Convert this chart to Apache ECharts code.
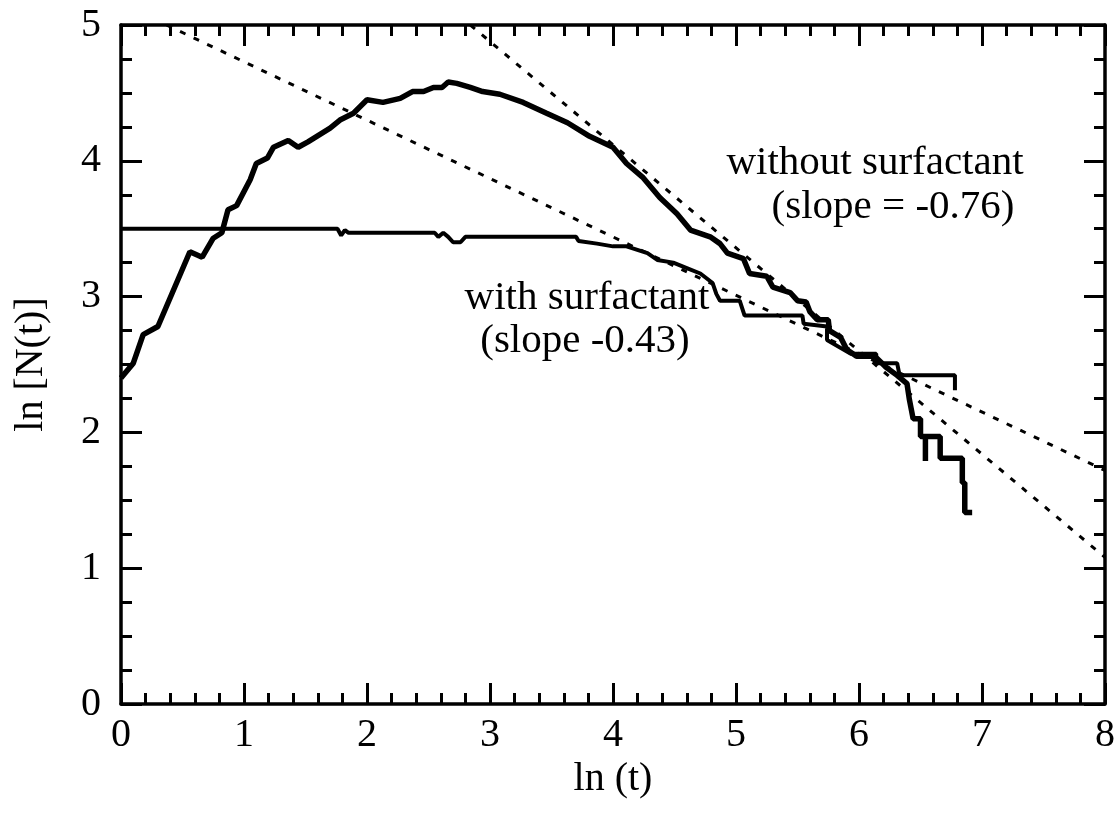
<!DOCTYPE html>
<html>
<head>
<meta charset="utf-8">
<script src="https://cdn.jsdelivr.net/npm/echarts@6/dist/echarts.min.js"></script>
<style>
html,body{margin:0;padding:0;background:#fff;}
#chart{width:1120px;height:815px;}
</style>
</head>
<body>
<div id="chart"></div>
<script>
// ---- data ----
var withoutX = [0,0.10,0.18,0.30,0.56,0.66,0.75,0.82,0.87,0.94,1.05,1.10,1.19,1.24,1.36,1.44,1.52,1.70,1.78,1.89,2.00,2.13,2.27,2.37,2.46,2.54,2.61,2.66,2.73,2.84,2.94,3.08,3.27,3.46,3.63,3.81,4.00,4.11,4.24,4.38,4.52,4.63,4.79,4.87,4.93,5.06,5.11,5.25,5.30,5.44,5.50,5.57,5.60,5.66,5.75,5.76,5.85,5.90,5.98,6.13,6.22,6.31,6.39,6.41,6.44,6.50,6.50,6.54,6.54,6.54,6.66,6.66,6.84,6.84,6.86,6.86,6.92];
var withoutY = [2.40,2.51,2.72,2.78,3.33,3.29,3.43,3.47,3.64,3.67,3.86,3.98,4.02,4.10,4.15,4.10,4.14,4.24,4.30,4.35,4.45,4.43,4.46,4.51,4.51,4.54,4.54,4.58,4.57,4.54,4.51,4.49,4.43,4.35,4.28,4.18,4.10,3.98,3.88,3.73,3.61,3.49,3.44,3.39,3.32,3.28,3.17,3.15,3.07,3.03,2.97,2.96,2.89,2.83,2.83,2.75,2.70,2.61,2.56,2.56,2.48,2.42,2.36,2.24,2.10,2.10,1.97,1.97,1.79,1.97,1.97,1.81,1.81,1.63,1.63,1.41,1.41];

var withX = [0,1.76,1.79,1.82,1.85,2.55,2.58,2.62,2.66,2.70,2.76,2.80,3.70,3.72,3.87,4.00,4.11,4.28,4.36,4.49,4.60,4.71,4.81,4.84,4.87,5.03,5.07,5.54,5.55,5.74,5.74,5.93,6.14,6.14,6.31,6.33,6.78,6.78];
var withY = [3.50,3.50,3.45,3.49,3.47,3.47,3.44,3.47,3.44,3.40,3.40,3.44,3.44,3.41,3.39,3.37,3.37,3.32,3.27,3.25,3.21,3.17,3.10,3.02,2.97,2.97,2.86,2.86,2.80,2.78,2.68,2.58,2.58,2.51,2.51,2.42,2.42,2.31];

var fitShallowX = [0.37, 8];
var fitShallowY = [5.0, 1.72];
var fitSteepX = [2.84, 8];
var fitSteepY = [5.0, 1.08];

var xTicks = [0,1,2,3,4,5,6,7,8];
var yTicks = [0,1,2,3,4,5];
var notes = ['without surfactant', '(slope = -0.76)', 'with surfactant', '(slope -0.43)'];

function pairs(xs, ys){ return xs.map(function(x,i){ return [x, ys[i]]; }); }

var FONT = 'Liberation Serif';
var chart = echarts.init(document.getElementById('chart'), null, {renderer:'canvas'});

function xAx(pos, showLabel){
  return {
    type:'value', position:pos, min:xTicks[0], max:xTicks[xTicks.length-1], interval:1,
    axisLine:{show:true, onZero:false, lineStyle:{color:'#000', width:3.5}},
    axisTick:{show:true, inside:true, length:21, lineStyle:{color:'#000', width:3}},
    minorTick:{show:true, splitNumber:5, length:11, lineStyle:{color:'#000', width:3}},
    splitLine:{show:false}, minorSplitLine:{show:false},
    axisLabel:{show:showLabel, color:'#000', fontFamily:FONT, fontSize:40, margin:11},
    name: showLabel ? 'ln (t)' : '', nameLocation:'middle', nameGap:48,
    nameTextStyle:{color:'#000', fontFamily:FONT, fontSize:40}
  };
}
function yAx(pos, showLabel){
  return {
    type:'value', position:pos, min:yTicks[0], max:yTicks[yTicks.length-1], interval:1,
    axisLine:{show:true, onZero:false, lineStyle:{color:'#000', width:3.5}},
    axisTick:{show:true, inside:true, length:21, lineStyle:{color:'#000', width:3}},
    minorTick:{show:true, splitNumber:4, length:11, lineStyle:{color:'#000', width:3}},
    splitLine:{show:false}, minorSplitLine:{show:false},
    axisLabel:{show:showLabel, color:'#000', fontFamily:FONT, fontSize:40, margin:20},
    name: showLabel ? 'ln [N(t)]' : '', nameLocation:'middle', nameGap:70, nameRotate:90,
    nameTextStyle:{color:'#000', fontFamily:FONT, fontSize:40}
  };
}

var noteFont = '41px "Liberation Serif"';
function note(i, x, y){
  return {type:'text', x:x, y:y, style:{text:notes[i], fill:'#000', font:noteFont, align:'center', verticalAlign:'middle', textAlign:'center', textVerticalAlign:'middle'}};
}

var option = {
  animation:false,
  backgroundColor:'#fff',
  grid:{left:121, right:15, top:25, bottom:111, containLabel:false},
  xAxis:[xAx('bottom', true), xAx('top', false)],
  yAxis:[yAx('left', true), yAx('right', false)],
  series:[
    {name:'without surfactant', type:'line', xAxisIndex:0, yAxisIndex:0, data:pairs(withoutX, withoutY),
     showSymbol:false, symbol:'none', lineStyle:{color:'#000', width:5.5}, z:3},
    {name:'with surfactant', type:'line', xAxisIndex:0, yAxisIndex:0, data:pairs(withX, withY),
     showSymbol:false, symbol:'none', lineStyle:{color:'#000', width:4}, z:3},
    {name:'fit -0.43', type:'line', xAxisIndex:0, yAxisIndex:0, data:pairs(fitShallowX, fitShallowY),
     showSymbol:false, symbol:'none', lineStyle:{color:'#000', width:3, type:[6,9]}, z:2},
    {name:'fit -0.76', type:'line', xAxisIndex:0, yAxisIndex:0, data:pairs(fitSteepX, fitSteepY),
     showSymbol:false, symbol:'none', lineStyle:{color:'#000', width:3, type:[6,9]}, z:2}
  ],
  graphic:[
    note(0, 875, 163),
    note(1, 893, 207),
    note(2, 587, 298),
    note(3, 585, 341)
  ]
};
chart.setOption(option);
</script>
</body>
</html>
